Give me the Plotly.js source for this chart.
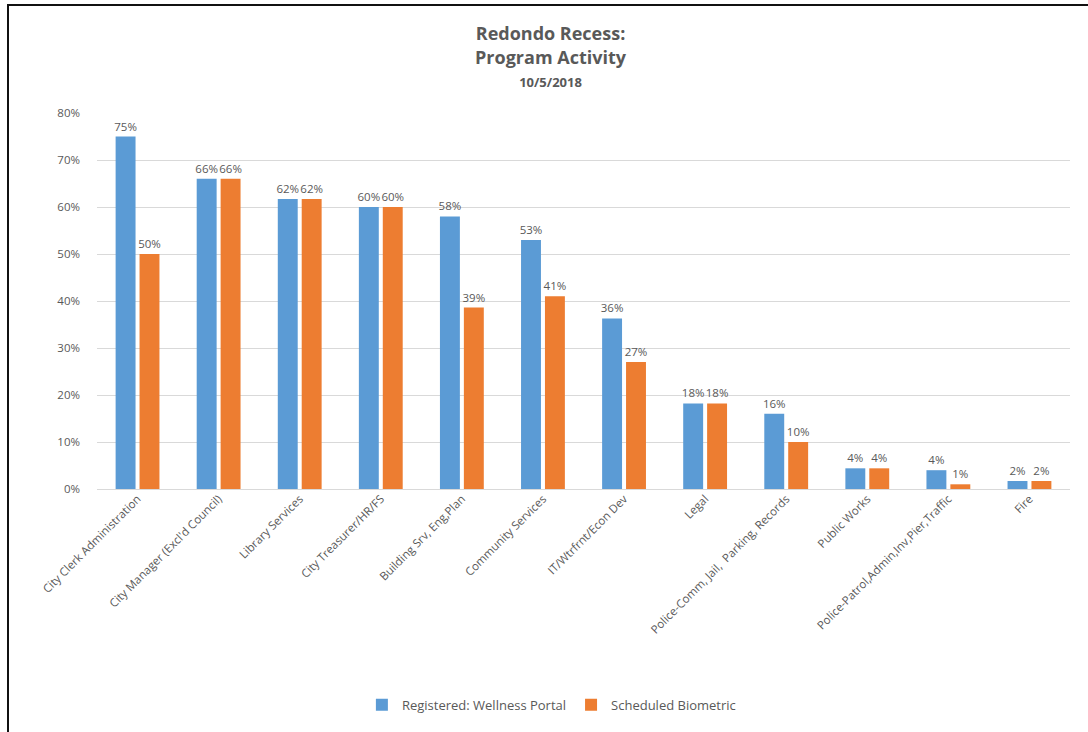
<!DOCTYPE html>
<html>
<head>
<meta charset="utf-8">
<script src="https://cdn.plot.ly/plotly-3.0.1.min.js"></script>
<style>
html,body{margin:0;padding:0;background:#fff;overflow:hidden;}
#frame{position:absolute;left:7px;top:4px;width:1100px;height:726px;border-left:2px solid #111;border-top:2px solid #111;border-bottom:2px solid #999;}
#chart{position:absolute;left:0;top:0;width:1088px;height:732px;}
</style>
</head>
<body>
<div id="chart"></div>
<div id="frame"></div>
<script>
const categories = [
  "City Clerk Administration",
  "City Manager (Excl'd Council)",
  "Library Services",
  "City Treasurer/HR/FS",
  "Building Srv, Eng,Plan",
  "Community Services",
  "IT/Wtrfrnt/Econ Dev",
  "Legal",
  "Police-Comm, Jail,  Parking, Records",
  "Public Works",
  "Police-Patrol,Admin,Inv,Pier,Traffic",
  "Fire"
];
const registered = [0.75, 0.66, 0.617, 0.60, 0.58, 0.53, 0.363, 0.182, 0.16, 0.044, 0.04, 0.017];
const scheduled  = [0.50, 0.66, 0.617, 0.60, 0.386, 0.41, 0.27, 0.182, 0.10, 0.044, 0.01, 0.017];
const seriesNames = ["Registered: Wellness Portal", "Scheduled Biometric"];
const yTicks = [0, 0.1, 0.2, 0.3, 0.4, 0.5, 0.6, 0.7, 0.8];

const FONT = "Open Sans, Liberation Sans, sans-serif";
const GREY = "#595959";

const common = {
  type: "bar",
  x: categories,
  texttemplate: "%{y:.0%}",
  textposition: "outside",
  constraintext: "none",
  cliponaxis: false,
  textfont: {family: FONT, size: 11.5, color: GREY},
  hoverinfo: "x+y"
};

const traces = [
  Object.assign({}, common, {name: seriesNames[0], y: registered, marker: {color: "#5B9BD5"}}),
  Object.assign({}, common, {name: seriesNames[1], y: scheduled, marker: {color: "#ED7D31"}})
];

const layout = {
  width: 1088,
  height: 732,
  paper_bgcolor: "#fff",
  plot_bgcolor: "#fff",
  margin: {l: 97, r: 18, t: 113, b: 243},
  font: {family: FONT, color: GREY, size: 11},
  title: {
    text: "<b>Redondo Recess:<br>Program Activity</b><br><span style='font-size:13px'><b>10/5/2018</b></span>",
    font: {family: FONT, size: 18, color: GREY},
    x: 0.506, xanchor: "center",
    y: 0.945, yanchor: "top", yref: "container"
  },
  barmode: "group",
  bargap: 0.41,
  bargroupgap: 0.167,
  xaxis: {
    tickangle: -45,
    tickfont: {family: FONT, size: 11.5, color: GREY},
    showline: false,
    ticks: "",
    automargin: false
  },
  yaxis: {
    range: [0, 0.8],
    tickvals: yTicks,
    tickformat: ".0%",
    tickfont: {family: FONT, size: 11.5, color: GREY},
    gridcolor: "#d9d9d9",
    gridwidth: 1,
    zeroline: true,
    zerolinecolor: "#d9d9d9",
    zerolinewidth: 1,
    ticklabelstandoff: 16,
    automargin: false
  },
  showlegend: true,
  legend: {
    orientation: "h",
    x: 0.467, xanchor: "center",
    y: -0.574, yanchor: "middle",
    font: {family: FONT, size: 13, color: GREY},
    itemwidth: 30,
    traceorder: "normal"
  }
};

Plotly.newPlot("chart", traces, layout, {displayModeBar: false, staticPlot: true});
</script>
</body>
</html>
